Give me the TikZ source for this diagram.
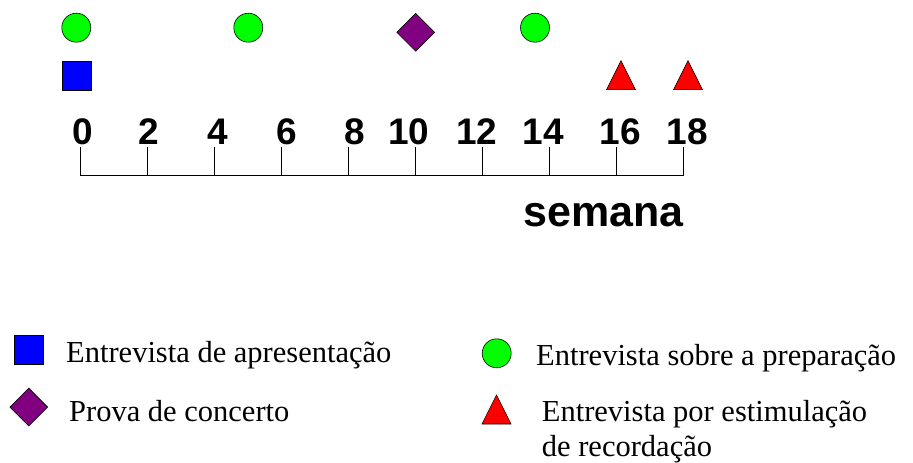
\documentclass[tikz,border=0pt]{standalone}
\usepackage{fontspec}
\setmainfont{Liberation Serif}
\newfontfamily\axisfont{Liberation Sans}
\usetikzlibrary{shapes.geometric}
\definecolor{diapurple}{RGB}{128,0,128}
\begin{document}
\begin{tikzpicture}[x=1pt,y=-1pt]
\def\wk{33.5}; %Horizontal gap for one week
\def\xo{80}; %x of week 0
\def\ybase{175.7}; %y of the axis line
\def\ytick{147}; %y of the tick tops
\def\msize{29pt}; %marker size

\tikzstyle{prep} = [circle, draw, line width=0.6pt, fill=green, minimum size=\msize, inner sep=0pt]
\tikzstyle{intro} = [rectangle, draw, line width=0.6pt, fill=blue, minimum size=\msize, inner sep=0pt]
\tikzstyle{concert} = [diamond, draw, line width=0.6pt, fill=diapurple, minimum size=38pt, inner sep=0pt]
\tikzstyle{recall} = [isosceles triangle, isosceles triangle stretches, shape border rotate=90, draw, line width=0.6pt, fill=red, minimum width=\msize, minimum height=\msize, inner sep=0pt]
\tikzstyle{weeknum} = [font=\axisfont\bfseries\fontsize{37}{40}\selectfont, anchor=base, inner sep=0pt]
\tikzstyle{legtext} = [font=\fontsize{30.5}{35}\selectfont, anchor=base west, inner sep=0pt]

\useasboundingbox (0,0) rectangle (913,463);

% axis with ticks
\foreach \w/\lx in {0/83,2/149,4/218,6/287,8/355,10/409,12/477,14/543,16/620,18/687}{
 \coordinate (t\w) at (\xo+\w*\wk,\ytick);
 \coordinate (b\w) at (\xo+\w*\wk,\ybase);
 \node[weeknum] (n\w) at (\lx,144.5) {\w};
 \draw[line width=0.7pt] (t\w)--(b\w);
}
\draw[line width=0.7pt] (b0)--(b18);
\node[font=\axisfont\bfseries\fontsize{43}{46}\selectfont, anchor=base, inner sep=0pt] (sem) at (603.6,226) {semana};

% events
\node[prep] (p1) at (76.3,27.7) {};
\node[prep] (p2) at (248.3,27.7) {};
\node[prep] (p3) at (535,27.7) {};
\node[concert] (c1) at (415.7,32.3) {};
\node[intro] (i1) at (76.3,75.7) {};
\node[recall, anchor=south] (r1) at (621,90) {};
\node[recall, anchor=south] (r2) at (688,90) {};

% legend
\node[intro] (li) at (28.7,350) {};
\node[legtext] (lti) at (66,362.7) {Entrevista de apresentação};
\node[concert] (lc) at (28.8,407) {};
\node[legtext] (ltc) at (69,421.7) {Prova de concerto};
\node[prep] (lp) at (496.7,353.3) {};
\node[legtext] (ltp) at (536,365) {Entrevista sobre a preparação};
\node[recall, anchor=south] (lr) at (496.5,424.3) {};
\node[legtext] (ltr) at (541.7,421.7) {Entrevista por estimulação};
\node[legtext] (ltr2) at (541.7,456.7) {de recordação};

\end{tikzpicture}
\end{document}
